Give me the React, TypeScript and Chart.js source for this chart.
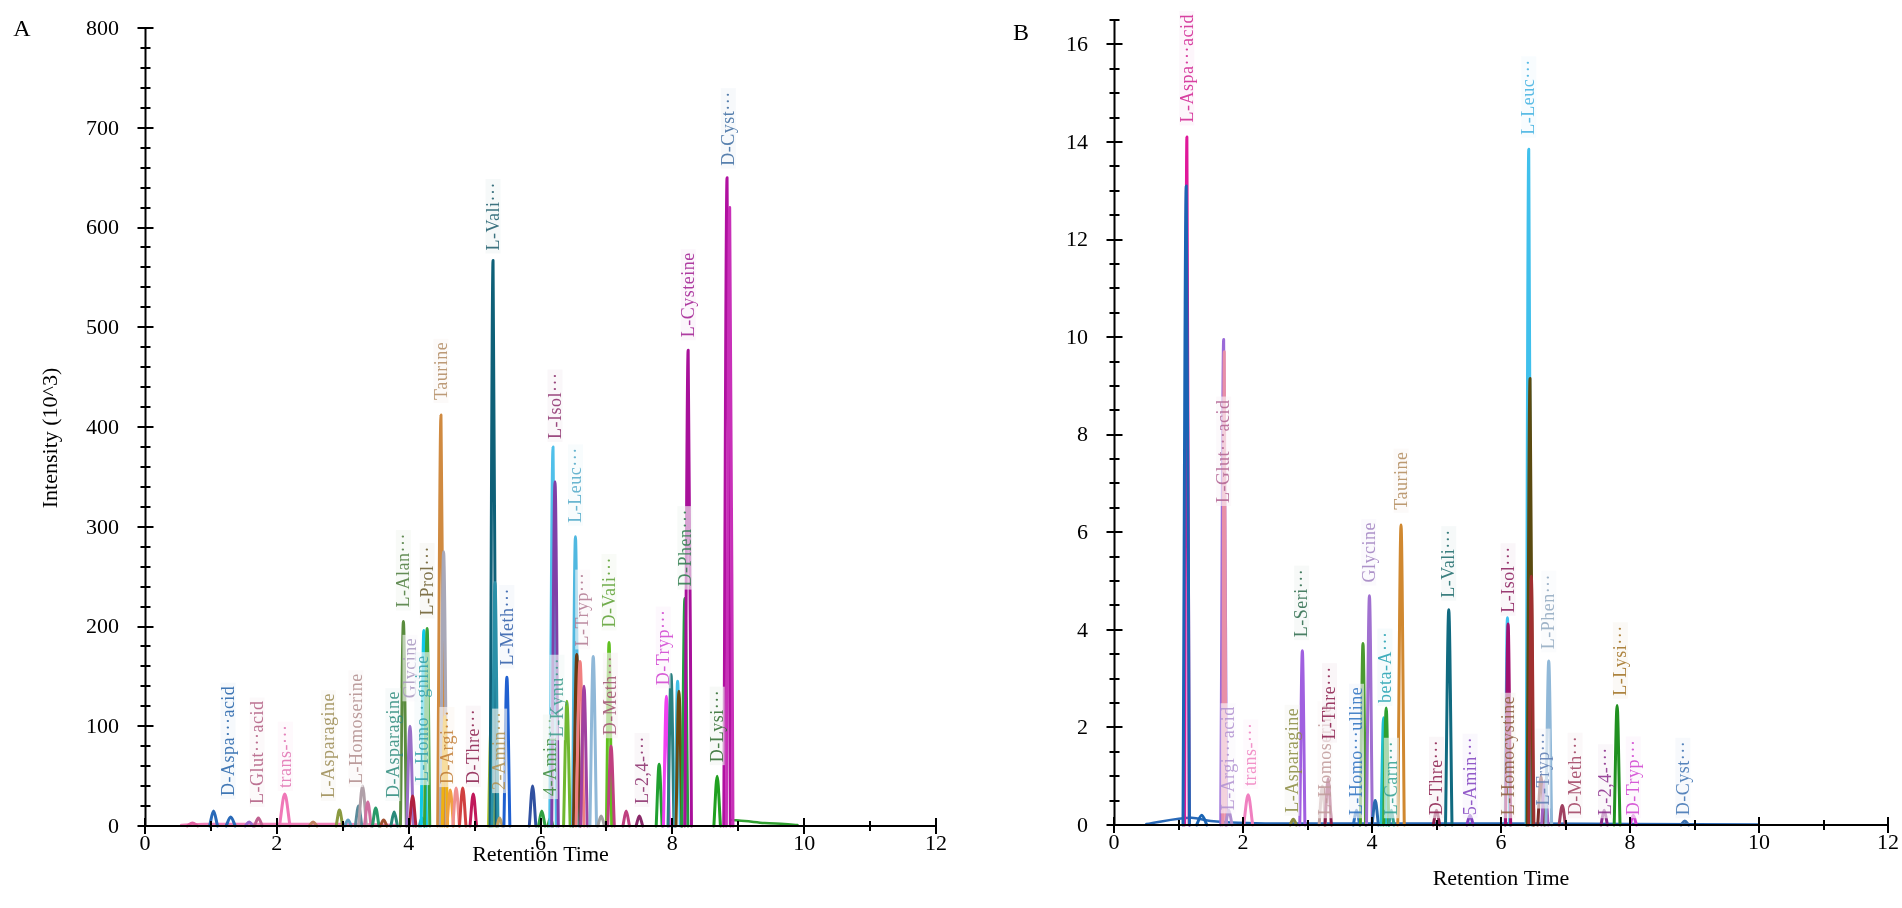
import { useEffect, useRef } from "react"
import { Chart, registerables } from "chart.js"

Chart.register(...registerables)

const FONT = '"Liberation Serif", "Times New Roman", serif'

const xTicks = [0, 2, 4, 6, 8, 10, 12]

// ---------- panel A : Intensity (10^3) ----------
const yTicksA = [0, 100, 200, 300, 400, 500, 600, 700, 800]

const peakRtA = [0.72, 1.04, 1.30, 1.58, 1.72, 2.12, 2.55, 2.95, 3.08, 3.24, 3.30, 3.38, 3.50, 3.62, 3.78,
    3.92, 4.02, 4.06, 4.20, 4.23, 4.28, 4.49, 4.53, 4.55, 4.63, 4.72, 4.82, 4.98, 5.25, 5.28, 5.31, 5.38,
    5.49, 5.88, 6.02, 6.15, 6.19, 6.22, 6.40, 6.53, 6.55, 6.60, 6.66, 6.80, 6.92, 7.04, 7.07, 7.30, 7.50,
    7.80, 7.91, 7.98, 8.08, 8.10, 8.19, 8.24, 8.68, 8.83, 8.87]
const peakHeightA = [3, 15, 9, 4, 8, 32, 4, 16, 6, 20, 40, 24, 18, 6, 14,
    205, 100, 30, 8, 196, 198, 412, 275, 110, 36, 38, 38, 32, 100, 567, 244, 8,
    149, 40, 15, 8, 380, 345, 125, 290, 172, 165, 140, 170, 10, 184, 80, 15, 10,
    62, 130, 152, 145, 135, 228, 477, 50, 650, 620]
const peakHalfWidthA = [0.08, 0.06, 0.07, 0.06, 0.06, 0.08, 0.06, 0.05, 0.05, 0.05, 0.06, 0.05, 0.05, 0.05, 0.05,
    0.045, 0.05, 0.05, 0.04, 0.04, 0.04, 0.05, 0.05, 0.04, 0.05, 0.05, 0.05, 0.05, 0.04, 0.045, 0.045, 0.04,
    0.045, 0.05, 0.05, 0.04, 0.05, 0.05, 0.05, 0.045, 0.05, 0.06, 0.05, 0.05, 0.05, 0.04, 0.05, 0.05, 0.05,
    0.045, 0.045, 0.045, 0.04, 0.045, 0.045, 0.05, 0.05, 0.05, 0.05]
const peakColorA = ['#e060a0', '#2a6ab8', '#2a6ab8', '#9a6acc', '#c06090', '#f078b8', '#c08060', '#8a9a40', '#60a0c0',
    '#5a8a9a', '#b0a0a8', '#d070a0', '#2a9a6a', '#a05030', '#2a8a7a', '#5a8c3e', '#9a70c8', '#b02040', '#30a0a8',
    '#10c8e8', '#3aa33a', '#d08a40', '#a8a8b8', '#f0b010', '#f0a040', '#f09090', '#d04040', '#c0185a', '#b8c830',
    '#0e6078', '#2a90a8', '#c0a060', '#2060d0', '#3050a0', '#30a040', '#40a040', '#50c0ea', '#8040a8', '#70b830',
    '#50b8e0', '#6a3a10', '#f08080', '#a040a0', '#90b8d8', '#a0a0a0', '#60c020', '#c04080', '#c04080', '#8a2a6a',
    '#20a030', '#f040f0', '#2a8080', '#40c0e8', '#6a4a10', '#20a040', '#a8109a', '#20a020', '#b010a0', '#c830b8']

const baseRtA = [0.55, 0.9, 1.5, 2.2, 3.0, 3.8]
const baseValueA = [1, 2, 2, 2, 2, 1]
const tailRtA = [8.9, 9.1, 9.4, 9.7, 9.9]
const tailValueA = [6, 5, 3, 2, 1]

const labelTextA = ['D-Aspa···acid', 'L-Glut···acid', 'trans-···', 'L-Asparagine', 'L-Homoserine', 'D-Asparagine',
    'L-Alan···', 'Glycine', 'L-Homo···gnine', 'L-Prol···', 'Taurine', 'D-Argi···', 'D-Thre···', 'L-Vali···',
    '2-Amin···', 'L-Meth···', '4-Amin···', 'L-Isol···', 'L-Kynu···', 'L-Leuc···', 'L-Tryp···', 'D-Vali···',
    'D-Meth···', 'L-2,4-···', 'D-Tryp···', 'D-Phen···', 'L-Cysteine', 'D-Lysi···', 'D-Cyst···']
const labelRtA = [1.26, 1.70, 2.13, 2.78, 3.20, 3.76, 3.92, 4.02, 4.20, 4.28, 4.49, 4.58, 4.98, 5.28,
    5.38, 5.49, 6.15, 6.22, 6.25, 6.53, 6.64, 7.04, 7.06, 7.54, 7.86, 8.19, 8.24, 8.68, 8.85]
const labelAtA = [30, 22, 38, 28, 42, 28, 219, 128, 44, 211, 427, 42, 42, 577,
    36, 161, 30, 388, 89, 304, 180, 199, 91, 22, 141, 240, 490, 64, 662]
const labelColorA = ['#2060a8', '#b05a80', '#e070b0', '#9a8a50', '#b08c8c', '#2a8a7a', '#4a7a3a', '#a898c0',
    '#30a0a8', '#6a5a2a', '#b08a60', '#c07a30', '#8a1a4a', '#1a5a6a', '#b09050', '#2a5aa8', '#3a8a3a',
    '#8a2a6a', '#3a9a8a', '#50a8c8', '#b07890', '#5aa030', '#a05070', '#8a2a6a', '#d040d0', '#2a7a4a',
    '#a01a90', '#2a6a2a', '#3a6aa0']

// ---------- panel B ----------
const yTicksB = [0, 2, 4, 6, 8, 10, 12, 14, 16]

const peakRtB = [1.13, 1.12, 1.36, 1.70, 1.71, 1.78, 2.08, 2.78, 2.92, 3.23, 3.32, 3.76, 3.86, 3.96, 4.05,
    4.18, 4.22, 4.30, 4.45, 5.00, 5.19, 5.52, 6.10, 6.11, 6.43, 6.45, 6.47, 6.62, 6.68, 6.74, 6.95, 7.60,
    7.80, 8.05, 8.85]
const peakHeightB = [14.1, 13.1, 0.2, 9.95, 9.7, 0.3, 0.62, 0.12, 3.57, 0.8, 0.95, 0.3, 3.72, 4.70, 0.5,
    2.2, 2.4, 0.3, 6.15, 0.3, 4.41, 0.2, 4.25, 4.12, 13.85, 9.15, 5.1, 1.0, 0.9, 3.36, 0.4, 0.3,
    2.45, 0.2, 0.08]
const peakHalfWidthB = [0.035, 0.05, 0.08, 0.045, 0.025, 0.05, 0.07, 0.05, 0.04, 0.05, 0.05, 0.05, 0.04, 0.045, 0.05,
    0.04, 0.04, 0.04, 0.05, 0.05, 0.05, 0.05, 0.035, 0.04, 0.04, 0.045, 0.04, 0.05, 0.05, 0.045, 0.05, 0.05,
    0.045, 0.05, 0.06]
const peakColorB = ['#e0189a', '#1a64b4', '#1a64b4', '#9a6ad8', '#e890a8', '#b090d0', '#f080c0', '#8a8a40', '#a060e0',
    '#c0a0a0', '#8a1a4a', '#2a70c0', '#4a9a30', '#a070d0', '#2a6ab0', '#20c0d0', '#30a030', '#30a090', '#d08830',
    '#8a1a4a', '#106a80', '#8040c0', '#40c0f0', '#a01070', '#40c0ec', '#5a4a10', '#a03030', '#7a2a2a', '#a060c0',
    '#90b8d8', '#a04060', '#8a2a8a', '#209020', '#d040d0', '#3a70b0']

const baseRtB = [0.5, 1.2, 1.5, 2.5, 4.0, 6.0, 8.0, 10.0]
const baseValueB = [0.02, 0.15, 0.08, 0.03, 0.03, 0.03, 0.02, 0.01]

const labelTextB = ['L-Aspa···acid', 'L-Glut···acid', 'L-Argi···acid', 'trans-···', 'L-Asparagine', 'L-Seri···',
    'L-Homoserine', 'L-Thre···', 'L-Homo···ulline', 'Glycine', 'beta-A···', 'L-Carn···', 'Taurine', 'D-Thre···',
    'L-Vali···', '5-Amin···', 'L-Homocystine', 'L-Isol···', 'L-Leuc···', 'L-Tryp···', 'L-Phen···', 'D-Meth···',
    'L-2,4-···', 'L-Lysi···', 'D-Tryp···', 'D-Cyst···']
const labelRtB = [1.13, 1.70, 1.77, 2.12, 2.76, 2.91, 3.27, 3.34, 3.76, 3.95, 4.20, 4.30, 4.45, 5.00,
    5.19, 5.52, 6.11, 6.11, 6.43, 6.65, 6.74, 7.15, 7.62, 7.85, 8.05, 8.82]
const labelAtB = [14.4, 6.6, 0.3, 0.8, 0.25, 3.85, 0.2, 1.75, 0.2, 4.97, 2.5, 0.2, 6.46, 0.2,
    4.66, 0.2, 0.2, 4.35, 14.15, 0.4, 3.6, 0.2, 0.2, 2.65, 0.2, 0.2]
const labelColorB = ['#d02090', '#b06090', '#b090d0', '#f080c0', '#8a8a40', '#2a6a4a', '#c09a9a', '#8a1a4a',
    '#2a70c0', '#a080c0', '#20a0b0', '#30a090', '#b08a5a', '#8a1a4a', '#1a6a6a', '#8040c0', '#8a5a3a',
    '#8a1a5a', '#40b0e0', '#5a7ab0', '#90a8c0', '#a04060', '#8a2a8a', '#a07020', '#d040d0', '#3a70b0']

function rgba(hex: string, a: number) {
    const n = parseInt(hex.slice(1), 16)
    return `rgba(${(n >> 16) & 255},${(n >> 8) & 255},${n & 255},${a})`
}

function buildDatasets(rt: number[], h: number[], hw: number[], colors: string[],
    baselines: { x: number[], y: number[], color: string }[]) {
    const n = rt.length
    const sets: any[] = baselines.map((b, i) => ({
        data: b.x.map((x, j) => ({ x, y: b.y[j] })),
        borderColor: b.color,
        borderWidth: 2.5,
        order: n + 10 + i,
    }))
    rt.forEach((x, i) => {
        sets.push({
            data: [{ x: x - hw[i], y: 0 }, { x, y: h[i] }, { x: x + hw[i], y: 0 }],
            borderColor: colors[i],
            borderWidth: 3,
            order: n - i,
        })
    })
    return sets
}

function labelPlugin(text: string[], rt: number[], at: number[], colors: string[]) {
    return {
        id: 'peakLabels',
        afterDatasetsDraw(chart: any) {
            const { ctx, scales: { x, y } } = chart
            ctx.save()
            ctx.font = `18px ${FONT}`
            ctx.letterSpacing = '0.5px'
            text.forEach((t, i) => {
                const px = x.getPixelForValue(rt[i])
                const py = y.getPixelForValue(at[i])
                const tw = ctx.measureText(t).width
                ctx.save()
                ctx.translate(px, py)
                ctx.rotate(-Math.PI / 2)
                // translucent box: only shows where it covers a peak
                ctx.fillStyle = 'rgba(255,255,255,0.62)'
                ctx.fillRect(-3, -7.5, tw + 6, 15)
                ctx.fillStyle = rgba(colors[i], 0.04)
                ctx.fillRect(-3, -7.5, tw + 6, 15)
                ctx.fillStyle = rgba(colors[i], 0.85)
                ctx.textAlign = 'left'
                ctx.textBaseline = 'middle'
                ctx.fillText(t, 0, 1)
                ctx.restore()
            })
            ctx.restore()
        }
    }
}

type AxisCfg = {
    yTicks: number[], yMax: number, yMinor: number,
    letter: string, letterX: number, letterY: number,
    yTitle?: string, yTitleX?: number, xTitleY: number,
}

function axesPlugin(cfg: AxisCfg) {
    return {
        id: 'crossAxes',
        afterDraw(chart: any) {
            const { ctx, chartArea: a, scales: { x, y } } = chart
            const x0 = Math.round(a.left) + 0.5
            const yb = Math.round(y.getPixelForValue(0))
            ctx.save()
            ctx.strokeStyle = '#000'
            ctx.lineWidth = 2
            ctx.beginPath()
            ctx.moveTo(x0, y.getPixelForValue(cfg.yMax))
            ctx.lineTo(x0, yb)
            ctx.moveTo(x0, yb)
            ctx.lineTo(x.getPixelForValue(12), yb)
            const steps = Math.round(cfg.yMax / cfg.yMinor)
            for (let k = 0; k <= steps; k++) {
                const v = k * cfg.yMinor
                const py = Math.round(y.getPixelForValue(v))
                const major = cfg.yTicks.some(t => Math.abs(t - v) < 1e-6)
                const len = major ? 8 : 5
                ctx.moveTo(x0 - len, py)
                ctx.lineTo(x0 + len, py)
            }
            for (let v = 0; v <= 12; v++) {
                const px = Math.round(x.getPixelForValue(v))
                const len = v % 2 === 0 ? 8 : 5
                ctx.moveTo(px, yb - len)
                ctx.lineTo(px, yb + len)
            }
            ctx.stroke()

            ctx.fillStyle = '#000'
            ctx.font = `22px ${FONT}`
            ctx.textAlign = 'right'
            ctx.textBaseline = 'middle'
            cfg.yTicks.forEach(t => ctx.fillText(String(t), a.left - 26, y.getPixelForValue(t) + 1))
            ctx.textAlign = 'center'
            ctx.textBaseline = 'top'
            xTicks.forEach(t => ctx.fillText(String(t), x.getPixelForValue(t), yb + 7))

            ctx.textBaseline = 'middle'
            ctx.fillText('Retention Time', (x.getPixelForValue(0) + x.getPixelForValue(12)) / 2, cfg.xTitleY)
            if (cfg.yTitle) {
                ctx.save()
                ctx.translate(cfg.yTitleX, (a.top + a.bottom) / 2 + 11)
                ctx.rotate(-Math.PI / 2)
                ctx.fillText(cfg.yTitle, 0, 0)
                ctx.restore()
            }
            ctx.font = `24px ${FONT}`
            ctx.fillText(cfg.letter, cfg.letterX, cfg.letterY)
            ctx.restore()
        }
    }
}

type PanelProps = {
    left: number, yMax: number, padding: { left: number, right: number, top: number, bottom: number },
    datasets: any[], plugins: any[],
}

function PeakPanel({ left, yMax, padding, datasets, plugins }: PanelProps) {
    const canvasRef = useRef<HTMLCanvasElement>(null)
    useEffect(() => {
        const canvas = canvasRef.current
        if (canvas == null) return
        const chart = new Chart(canvas, {
            type: 'line',
            data: { datasets },
            options: {
                animation: false,
                responsive: false,
                events: [],
                layout: { padding },
                plugins: {
                    legend: { display: false },
                    tooltip: { enabled: false },
                },
                elements: {
                    point: { radius: 0 },
                    line: { cubicInterpolationMode: 'monotone', borderJoinStyle: 'round', borderCapStyle: 'round' },
                },
                datasets: { line: { clip: false } as any },
                scales: {
                    x: { type: 'linear', min: 0, max: 12, display: false },
                    y: { min: 0, max: yMax, display: false },
                },
            },
            plugins,
        })
        return () => chart.destroy()
    }, [canvasRef])
    return (
        <canvas ref={canvasRef} width={951} height={908}
            style={{ position: 'absolute', left, top: 0, width: 951, height: 908 }} />
    )
}

export default function App() {
    const datasetsA = buildDatasets(peakRtA, peakHeightA, peakHalfWidthA, peakColorA, [
        { x: baseRtA, y: baseValueA, color: '#f080b8' },
        { x: tailRtA, y: tailValueA, color: '#30a030' },
    ])
    const datasetsB = buildDatasets(peakRtB, peakHeightB, peakHalfWidthB, peakColorB, [
        { x: baseRtB, y: baseValueB, color: '#2a6ab8' },
    ])
    return (
        <div style={{ position: 'absolute', left: 0, top: 0, width: 1902, height: 908, background: '#fff' }}>
            <PeakPanel left={0} yMax={800}
                padding={{ left: 145, right: 15, top: 28, bottom: 82 }}
                datasets={datasetsA}
                plugins={[
                    labelPlugin(labelTextA, labelRtA, labelAtA, labelColorA),
                    axesPlugin({
                        yTicks: yTicksA, yMax: 800, yMinor: 20, letter: 'A', letterX: 22, letterY: 30,
                        yTitle: 'Intensity (10^3)', yTitleX: 51, xTitleY: 855,
                    }),
                ]} />
            <PeakPanel left={951} yMax={16.5}
                padding={{ left: 163, right: 14, top: 20, bottom: 83 }}
                datasets={datasetsB}
                plugins={[
                    labelPlugin(labelTextB, labelRtB, labelAtB, labelColorB),
                    axesPlugin({
                        yTicks: yTicksB, yMax: 16.5, yMinor: 0.5, letter: 'B', letterX: 70, letterY: 34,
                        xTitleY: 879,
                    }),
                ]} />
        </div>
    )
}
